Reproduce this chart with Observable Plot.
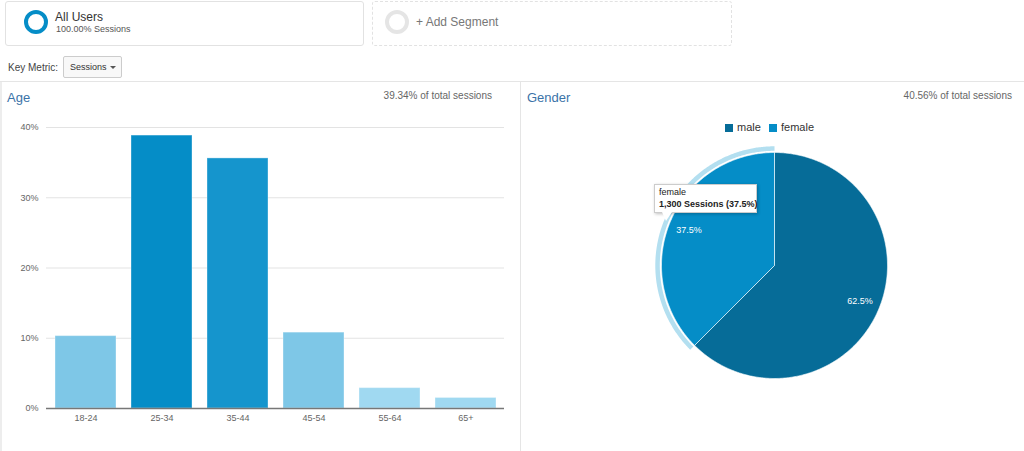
<!DOCTYPE html>
<html><head><meta charset="utf-8">
<script src="https://cdn.jsdelivr.net/npm/d3@7"></script>
<script src="https://cdn.jsdelivr.net/npm/@observablehq/plot@0.6"></script>
<style>
body{margin:0;width:1024px;height:451px;background:#fff;font-family:Arial,"Liberation Sans",sans-serif;position:relative;overflow:hidden}
.abs{position:absolute}
.seg{position:absolute;top:1px;height:45px;border:1px solid #e2e2e2;border-radius:3px;box-sizing:border-box}
.ring{position:absolute;border-radius:50%;box-sizing:border-box}
.t{position:absolute;white-space:nowrap}
</style></head><body>
<div class="seg" style="left:5px;width:359px"></div>
<div class="ring" style="left:24px;top:10px;width:24px;height:24px;border:4px solid #058dc7"></div>
<div class="t" style="left:55px;top:10px;font-size:12px;color:#333">All Users</div>
<div class="t" style="left:56px;top:24px;font-size:9px;color:#555">100.00% Sessions</div>
<div class="seg" style="left:372px;width:360px;border:1px dashed #e2e2e2"></div>
<div class="ring" style="left:385px;top:10px;width:24px;height:24px;border:4px solid #e5e5e5"></div>
<div class="t" style="left:416px;top:15px;font-size:12px;color:#777">+ Add Segment</div>
<div class="t" style="left:8px;top:62px;font-size:10px;color:#444">Key Metric:</div>
<div class="abs" style="left:63px;top:56px;width:59px;height:22px;border:1px solid #ccc;border-radius:2px;box-sizing:border-box;background:#f8f8f8"></div>
<div class="t" style="left:70px;top:62px;font-size:9px;color:#333">Sessions</div>
<div class="abs" style="left:110px;top:66px;width:0;height:0;border-left:3px solid transparent;border-right:3px solid transparent;border-top:3px solid #555"></div>
<div class="abs" style="left:0;top:81px;width:1024px;height:1px;background:#e5e5e5"></div>
<div class="abs" style="left:0;top:82px;width:2px;height:369px;background:#ededed"></div>
<div class="abs" style="left:520px;top:82px;width:1px;height:369px;background:#e5e5e5"></div>
<div class="t" style="left:7px;top:90px;font-size:13px;color:#3b73a8">Age</div>
<div class="t" style="right:532px;top:90px;font-size:10px;color:#666">39.34% of total sessions</div>
<div class="t" style="left:527px;top:90px;font-size:13px;color:#3b73a8">Gender</div>
<div class="t" style="right:12px;top:90px;font-size:10px;color:#666">40.56% of total sessions</div>
<div class="abs" style="left:725px;top:124px;width:8px;height:8px;background:#066c98"></div>
<div class="t" style="left:737px;top:121px;font-size:11px;color:#333">male</div>
<div class="abs" style="left:769px;top:124px;width:8px;height:8px;background:#058dc7"></div>
<div class="t" style="left:781px;top:121px;font-size:11px;color:#333">female</div>
<div id="bar" class="abs" style="left:0;top:110px"></div>
<div id="pie" class="abs" style="left:520px;top:110px"></div>
<div class="abs" style="left:654px;top:184px;width:103px;height:29px;background:#fff;border:1px solid #ccc;box-shadow:1px 1px 3px rgba(0,0,0,0.25);box-sizing:border-box"></div>
<div class="abs" style="left:662px;top:212px;width:0;height:0;border-left:4px solid transparent;border-right:6px solid transparent;border-top:9px solid #fff"></div>
<div class="t" style="left:659px;top:187px;font-size:9px;color:#222">female</div>
<div class="t" style="left:659px;top:199px;font-size:9px;color:#222;font-weight:bold">1,300 Sessions (37.5%)</div>
<script>
const ageGroups = ["18-24","25-34","35-44","45-54","55-64","65+"];
const agePct = [10.3, 38.85, 35.6, 10.8, 2.9, 1.5];
const ageColors = ["#7ec7e7","#058dc7","#1595cd","#7ec7e7","#a0d9f1","#a0d9f1"];
const yTicks = [0,10,20,30,40];
const genders = ["male","female"];
const genderPct = [62.5, 37.5];
const genderColors = ["#066c98","#058dc7"];

const ageData = ageGroups.map((g,i)=>({group:g, pct:agePct[i], color:ageColors[i]}));
const bar = Plot.plot({
  width:520, height:320, marginLeft:46, marginRight:16, marginTop:17, marginBottom:22,
  style:{fontFamily:"Arial, 'Liberation Sans', sans-serif", fontSize:"9px", color:"#666", background:"transparent"},
  x:{domain:ageGroups, paddingInner:0.2, paddingOuter:0.1, label:null, tickSize:0, tickPadding:6},
  y:{domain:[0,40], ticks:yTicks, tickFormat:d=>d+"%", label:null, tickSize:0, tickPadding:8},
  marks:[
    Plot.gridY(yTicks, {stroke:"#e3e3e3", strokeOpacity:1}),
    Plot.barY(ageData, {x:"group", y:"pct", fill:"color", stroke:"#ffffff", strokeOpacity:0.35, strokeWidth:1}),
    Plot.ruleY([0], {stroke:"#777", strokeWidth:1.5})
  ]
});
document.getElementById("bar").append(bar);

// pie slices as polygons through Plot's scales
const arcs = d3.pie().sort(null)(genderPct);
function arcPoly(a0, a1, r0, r1, k){
  const n = Math.max(8, Math.ceil((a1-a0)/0.01));
  const pts = [];
  for(let i=0;i<=n;i++){const a=a0+(a1-a0)*i/n; pts.push({x:r1*Math.sin(a), y:r1*Math.cos(a), k});}
  if(r0===0) pts.push({x:0,y:0,k});
  else for(let i=n;i>=0;i--){const a=a0+(a1-a0)*i/n; pts.push({x:r0*Math.sin(a), y:r0*Math.cos(a), k});}
  pts.push({...pts[0]});
  return pts;
}
const slicePts = arcs.flatMap((a,i)=>arcPoly(a.startAngle, a.endAngle, 0, 1, genders[i]));
const fArc = arcs[1];
const ringPts = arcPoly(fArc.startAngle, fArc.endAngle, 1.015, 1.055, "ring");
const labels = arcs.map((a,i)=>{const m=(a.startAngle+a.endAngle)/2; return {x:0.82*Math.sin(m), y:0.82*Math.cos(m), t:genderPct[i].toFixed(1)+"%"};});
const pie = Plot.plot({
  width:504, height:320, margin:0,
  style:{fontFamily:"Arial, 'Liberation Sans', sans-serif", background:"transparent"},
  x:{domain:[-1,1], range:[141,367], axis:null},
  y:{domain:[-1,1], range:[268,42], axis:null},
  color:{domain:[...genders,"ring"], range:[...genderColors,"#b3dff0"]},
  marks:[
    Plot.line(ringPts, {x:"x", y:"y", z:"k", fill:"k", stroke:"none", curve:"linear"}),
    Plot.line(slicePts, {x:"x", y:"y", z:"k", fill:"k", stroke:"#ffffff", strokeOpacity:0.6, strokeWidth:1, curve:"linear"}),
    Plot.text(labels, {x:"x", y:"y", text:"t", fill:"#fff", fontSize:9})
  ]
});
document.getElementById("pie").append(pie);
</script>
</body></html>
